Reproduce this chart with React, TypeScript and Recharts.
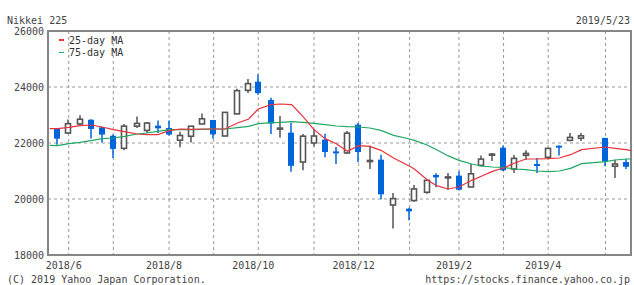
import React from "react";
import {
  ComposedChart,
  Bar,
  Line,
  XAxis,
  YAxis,
  CartesianGrid,
  ReferenceArea,
} from "recharts";

const START = "2018-05-23";
const END = "2019-05-23";

// weekly candles (first trading day of each week)
const weekDates = [
  "2018-05-28", "2018-06-04", "2018-06-11", "2018-06-18", "2018-06-25",
  "2018-07-02", "2018-07-09", "2018-07-17", "2018-07-23", "2018-07-30",
  "2018-08-06", "2018-08-13", "2018-08-20", "2018-08-27", "2018-09-03",
  "2018-09-10", "2018-09-18", "2018-09-25", "2018-10-01", "2018-10-09",
  "2018-10-15", "2018-10-22", "2018-10-29", "2018-11-05", "2018-11-12",
  "2018-11-19", "2018-11-26", "2018-12-03", "2018-12-10", "2018-12-17",
  "2018-12-25", "2019-01-04", "2019-01-07", "2019-01-15", "2019-01-21",
  "2019-01-28", "2019-02-04", "2019-02-12", "2019-02-18", "2019-02-25",
  "2019-03-04", "2019-03-11", "2019-03-18", "2019-03-25", "2019-04-01",
  "2019-04-08", "2019-04-15", "2019-04-22", "2019-05-07", "2019-05-13",
  "2019-05-20",
];

const opens = [
  22512, 22357, 22680, 22830, 22560, 22260, 21810, 22600, 22450, 22620,
  22535, 22100, 22240, 22680, 22820, 22250, 23040, 23880, 24190, 23535,
  22510, 22370, 21320, 22000, 22120, 21700, 21645, 22655, 21360, 21405,
  19785, 19655, 19944, 20240, 20860, 20770, 20834, 20430, 21200, 21590,
  21833, 21070, 21560, 21250, 21490, 21905, 22095, 22170, 22180, 21170,
  21320,
];
const highs = [
  22535, 22840, 22990, 22845, 22580, 22300, 22680, 22950, 22750, 22800,
  22800, 22400, 22600, 23050, 22830, 23110, 23940, 24285, 24450, 23620,
  22960, 22710, 22320, 22500, 22330, 21860, 22430, 22714, 21905, 21580,
  20215, 19690, 20500, 20680, 20920, 20930, 20990, 21250, 21550, 21640,
  21900, 21570, 21740, 21460, 21830, 21910, 22357, 22360, 22190, 21400,
  21430,
];
const lows = [
  21940, 22330, 22620, 22160, 22020, 21460, 21740, 22540, 22360, 22360,
  22270, 21850, 22020, 22670, 22150, 22240, 23030, 23785, 23720, 22320,
  22200, 20970, 21030, 21880, 21490, 21250, 21610, 21310, 21070, 19990,
  18950, 19240, 19900, 20190, 20420, 20330, 20300, 20420, 21170, 21360,
  21000, 20930, 21400, 20930, 21430, 21550, 22060, 22070, 21170, 20750,
  21070,
];
const closes = [
  22155, 22690, 22850, 22500, 22300, 21790, 22600, 22700, 22712, 22525,
  22300, 22270, 22600, 22865, 22307, 23094, 23870, 24120, 23783, 22694,
  22532, 21184, 22243, 22250, 21680, 21646, 22351, 21679, 21374, 20166,
  20014, 19561, 20359, 20666, 20773, 20788, 20333, 20900, 21425, 21602,
  21025, 21450, 21627, 21205, 21807, 21870, 22200, 22258, 21344, 21250,
  21151,
];

// moving averages read at the start, each candle and the end
const maDates = [START, ...weekDates, END];
const ma25 = [
  22512, 22512, 22560, 22619, 22643, 22571, 22476, 22405, 22321, 22298,
  22298, 22440, 22500, 22488, 22500, 22500, 22500, 22714, 22857, 23214,
  23369, 23392, 23369, 22952, 22476, 22155, 21976, 21702, 21905, 21881,
  21738, 21464, 21167, 21071, 20691, 20477, 20358, 20429, 20667, 20810,
  20988, 21107, 21286, 21429, 21429, 21441, 21465, 21583, 21762, 21857,
  21810, 21762, 21726,
];
const ma75 = [
  21917, 21905, 21976, 22024, 22083, 22155, 22179, 22238, 22321, 22357,
  22417, 22476, 22476, 22476, 22488, 22500, 22500, 22547, 22595, 22690,
  22726, 22738, 22762, 22738, 22702, 22655, 22607, 22583, 22571, 22535,
  22452, 22274, 22143, 22095, 21929, 21762, 21548, 21381, 21250, 21179,
  21143, 21131, 21072, 21048, 21000, 20976, 21000, 21095, 21262, 21334,
  21393, 21429, 21429,
];

const monthTicks = [
  "2018-06-04", "2018-07-02", "2018-08-06", "2018-09-03", "2018-10-01",
  "2018-11-05", "2018-12-03", "2019-01-04", "2019-02-04", "2019-03-04",
  "2019-04-01", "2019-05-07",
];
const monthLabels = [
  "2018/6", "", "2018/8", "", "2018/10", "", "2018/12", "", "2019/2", "",
  "2019/4", "",
];
const yTicks = [18000, 20000, 22000, 24000, 26000];

const FONT = "'DejaVu Sans Mono', 'Liberation Mono', monospace";
const RED = "#e8323c";
const GREEN = "#1fa862";
const BLUE = "#0064dc";
const DARK = "#555555";

const dayOf = (d: string) =>
  Math.round((Date.parse(d) - Date.parse(START)) / 86400000);

const candles = weekDates.map((d, i) => ({
  day: dayOf(d),
  open: opens[i],
  high: highs[i],
  low: lows[i],
  close: closes[i],
  range: [lows[i], highs[i]],
}));
const ma25Data = maDates.map((d, i) => ({ day: dayOf(d), v: ma25[i] }));
const ma75Data = maDates.map((d, i) => ({ day: dayOf(d), v: ma75[i] }));
const tickDays = monthTicks.map(dayOf);

const Candle = (props: any) => {
  const { x, y, width, height, payload } = props;
  if (x == null || y == null || !payload) return null;
  const { open, close, high, low } = payload;
  const top = Math.min(y, y + height);
  const h = Math.abs(height);
  const k = h / (high - low);
  const yOf = (v: number) => top + (high - v) * k;
  const cx = Math.round(x + width / 2);
  const up = close >= open;
  const bTop = yOf(Math.max(open, close));
  const bBot = yOf(Math.min(open, close));
  const color = up ? DARK : BLUE;
  return (
    <g>
      <line x1={cx} x2={cx} y1={top} y2={top + h} stroke={color} strokeWidth={1.5} />
      {up ? (
        <rect
          x={cx - 2.5}
          y={bTop}
          width={5}
          height={Math.max(bBot - bTop, 1)}
          fill="#fff"
          stroke={color}
          strokeWidth={1.6}
        />
      ) : (
        <rect
          x={cx - 3}
          y={bTop}
          width={6}
          height={Math.max(bBot - bTop, 2)}
          fill={color}
        />
      )}
    </g>
  );
};

const MonthTick = ({ x, y, payload }: any) => {
  const idx = tickDays.indexOf(payload.value);
  const label = idx >= 0 ? monthLabels[idx] : "";
  if (!label) return null;
  return (
    <text
      x={x - 5}
      y={y + 6}
      textAnchor="middle"
      fontFamily={FONT}
      fontSize={10}
      fill="#444"
    >
      {label}
    </text>
  );
};

const textStyle: React.CSSProperties = {
  position: "absolute",
  fontFamily: FONT,
  fontSize: 10,
  lineHeight: "10px",
  color: "#444",
  whiteSpace: "pre",
};

export default function App() {
  return (
    <div
      style={{
        position: "absolute",
        left: 0,
        top: 0,
        width: 634,
        height: 285,
        background: "#fff",
      }}
    >
      <ComposedChart
        width={634}
        height={285}
        data={candles}
        margin={{ top: 31, right: 3, bottom: 0, left: 0 }}
      >
        <CartesianGrid stroke="#999" strokeDasharray="3 3" />
        <XAxis
          type="number"
          dataKey="day"
          domain={[-1, 365]}
          ticks={tickDays}
          interval={0}
          allowDataOverflow
          height={30}
          tickLine={false}
          axisLine={false}
          tick={<MonthTick />}
        />
        <YAxis
          type="number"
          domain={[18000, 26000]}
          ticks={yTicks}
          width={48}
          tickLine={false}
          axisLine={false}
          tickSize={0}
          tickMargin={4}
          tick={{ fontFamily: FONT, fontSize: 10, fill: "#444" }}
        />
        <ReferenceArea
          x1={-1}
          x2={365}
          y1={18000}
          y2={26000}
          fill="none"
          stroke="#858585"
          strokeWidth={2}
        />
        <Line
          data={ma75Data}
          dataKey="v"
          type="linear"
          stroke={GREEN}
          strokeWidth={1.2}
          dot={false}
          isAnimationActive={false}
        />
        <Line
          data={ma25Data}
          dataKey="v"
          type="linear"
          stroke={RED}
          strokeWidth={1.2}
          dot={false}
          isAnimationActive={false}
        />
        <Bar dataKey="range" barSize={6} shape={<Candle />} isAnimationActive={false} />
      </ComposedChart>

      <div style={{ ...textStyle, left: 7, top: 16 }}>Nikkei 225</div>
      <div style={{ ...textStyle, right: 4, top: 16 }}>2019/5/23</div>

      <div style={{ position: "absolute", left: 59, top: 39, width: 5, height: 1.5, background: RED }} />
      <div style={{ ...textStyle, left: 69, top: 36, color: "#333" }}>25-day MA</div>
      <div style={{ position: "absolute", left: 59, top: 51.5, width: 5, height: 1.5, background: GREEN }} />
      <div style={{ ...textStyle, left: 69, top: 48, color: "#333" }}>75-day MA</div>

      <div style={{ ...textStyle, left: 7, top: 275 }}>(C) 2019 Yahoo Japan Corporation.</div>
      <div style={{ ...textStyle, right: 4, top: 275 }}>https://stocks.finance.yahoo.co.jp</div>
    </div>
  );
}
